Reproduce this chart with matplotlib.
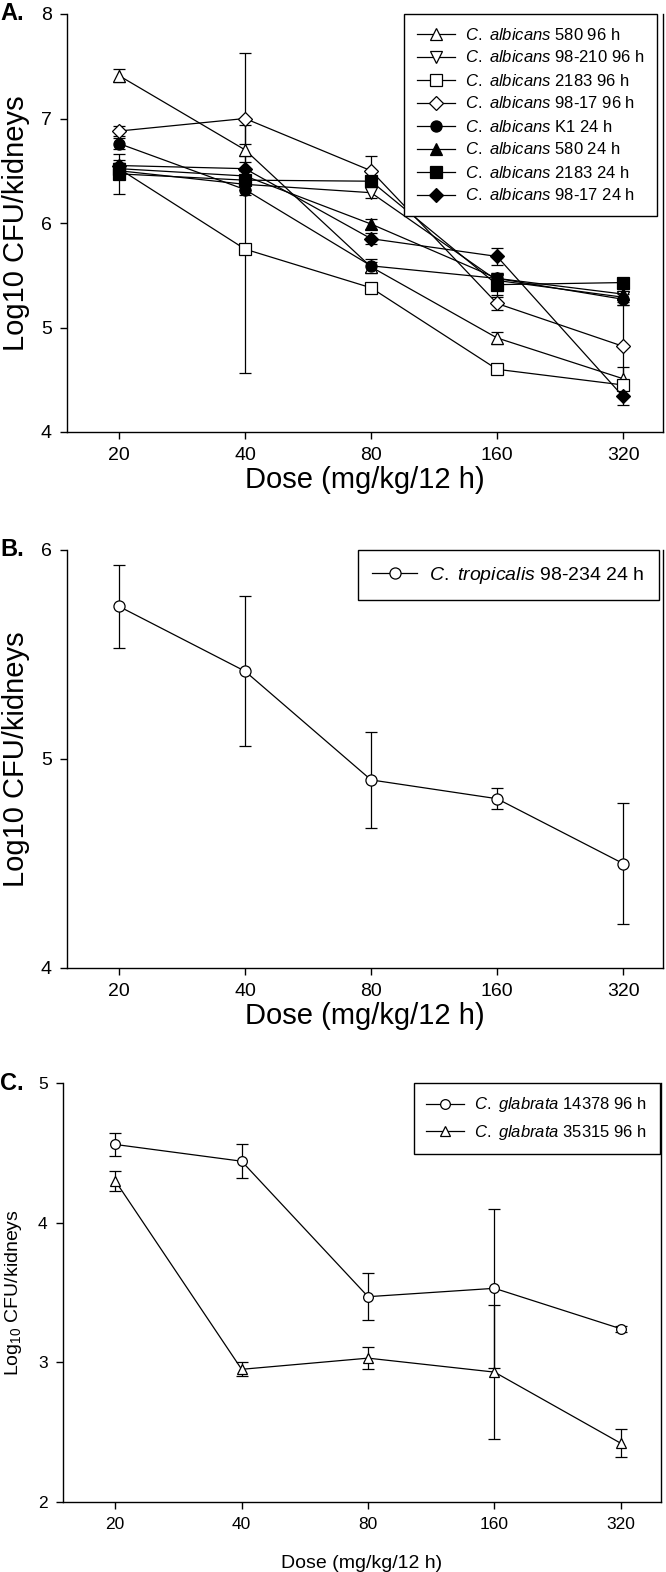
import matplotlib
matplotlib.use("Agg")
import matplotlib.pyplot as plt

plt.rcParams['font.family'] = ['Liberation Sans', 'DejaVu Sans']
plt.rcParams['mathtext.fontset'] = 'custom'
plt.rcParams['mathtext.rm'] = 'Liberation Sans'
plt.rcParams['mathtext.it'] = 'Liberation Sans:italic'

# shared x categories (dose, mg/kg/12 h)
doses = ["20", "40", "80", "160", "320"]

# panel A: C. albicans strains
a_labels = [r"$\mathit{C.\ albicans}$ 580 96 h",
            r"$\mathit{C.\ albicans}$ 98-210 96 h",
            r"$\mathit{C.\ albicans}$ 2183 96 h",
            r"$\mathit{C.\ albicans}$ 98-17 96 h",
            r"$\mathit{C.\ albicans}$ K1 24 h",
            r"$\mathit{C.\ albicans}$ 580 24 h",
            r"$\mathit{C.\ albicans}$ 2183 24 h",
            r"$\mathit{C.\ albicans}$ 98-17 24 h"]
a_means = [[7.41, 6.70, 5.58, 4.90, 4.51],
           [6.50, 6.37, 6.29, 5.45, 5.29],
           [6.52, 5.75, 5.38, 4.60, 4.45],
           [6.88, 7.00, 6.50, 5.23, 4.82],
           [6.76, 6.32, 5.59, 5.47, 5.27],
           [6.52, 6.45, 5.99, 5.47, 5.32],
           [6.47, 6.41, 6.40, 5.41, 5.43],
           [6.55, 6.52, 5.85, 5.68, 4.34]]
a_errs = [[0.06, 0.06, 0.05, 0.06, 0.11],
          [0.05, 0.05, 0.05, 0.05, 0.05],
          [0.05, 1.19, 0.04, 0.03, 0.04],
          [0.05, 0.63, 0.14, 0.06, 0.40],
          [0.05, 0.05, 0.07, 0.05, 0.05],
          [0.05, 0.05, 0.05, 0.05, 0.05],
          [0.19, 0.05, 0.05, 0.10, 0.04],
          [0.05, 0.06, 0.05, 0.08, 0.08]]
a_markers = ['^', 'v', 's', 'D', 'o', '^', 's', 'D']
a_filled = [False, False, False, False, True, True, True, True]

# panel B: C. tropicalis
b_label = r"$\mathit{C.\ tropicalis}$ 98-234 24 h"
b_mean = [5.73, 5.42, 4.90, 4.81, 4.50]
b_err = [0.20, 0.36, 0.23, 0.05, 0.29]

# panel C: C. glabrata strains
c_labels = [r"$\mathit{C.\ glabrata}$ 14378 96 h",
            r"$\mathit{C.\ glabrata}$ 35315 96 h"]
c_means = [[4.56, 4.44, 3.47, 3.53, 3.24],
           [4.30, 2.95, 3.03, 2.93, 2.42]]
c_errs = [[0.08, 0.12, 0.17, 0.57, 0.02],
          [0.07, 0.05, 0.08, 0.48, 0.10]]
c_markers = ['o', '^']

W, H = 666, 1572
fig = plt.figure(figsize=(W / 100, H / 100), dpi=100)


def make_axes(left, top, right, bottom):
    # pixel box -> figure fraction
    return fig.add_axes([left / W, 1 - bottom / H, (right - left) / W, (bottom - top) / H])


def style_axes(ax, yticks, tick_fs, label_fs, ylabel, xpad, ypad):
    ax.spines['top'].set_visible(False)
    for s in ax.spines.values():
        s.set_linewidth(1.0)
    x = list(range(len(doses)))
    ax.set_xticks(x)
    ax.set_xticklabels(doses)
    ax.set_xlim(-0.413, 4.317)
    ax.set_yticks(yticks)
    ax.set_ylim(yticks[0], yticks[-1])
    ax.tick_params(direction='out', length=5, width=1.0, labelsize=tick_fs, pad=6)
    ax.set_xlabel("Dose (mg/kg/12 h)", fontsize=label_fs, labelpad=xpad)
    ax.set_ylabel(ylabel, fontsize=label_fs, labelpad=ypad)


def add_legend(ax, handles, labels, fs, x_anchor, spacing):
    leg = ax.legend(handles, labels, loc='upper right', bbox_to_anchor=(x_anchor, 1.0),
                    borderaxespad=0, fontsize=fs, frameon=True, fancybox=False,
                    framealpha=1, edgecolor='k', handlelength=2.3, handletextpad=0.6,
                    labelspacing=spacing, borderpad=0.75)
    leg.get_frame().set_linewidth(1.0)


x = list(range(len(doses)))

# ---- panel A
axA = make_axes(67, 14, 663, 432)
lines = []
for mean, err, mk, filled in zip(a_means, a_errs, a_markers, a_filled):
    ms = 7 if mk == 'D' else 8
    c = axA.errorbar(x, mean, yerr=err, fmt=mk + '-', color='k', lw=0.9,
                     mfc='k' if filled else 'white', mec='k', mew=0.9, ms=ms,
                     capsize=4, elinewidth=0.9, capthick=0.9)
    lines.append(c[0])
style_axes(axA, [4, 5, 6, 7, 8], 14, 21, "Log10 CFU/kidneys", 1, 8)
add_legend(axA, lines, a_labels, 12, 0.99, 0.42)

# ---- panel B
axB = make_axes(67, 550, 663, 968)
c = axB.errorbar(x, b_mean, yerr=b_err, fmt='o-', color='k', lw=0.9, mfc='white',
                 mec='k', mew=0.9, ms=8, capsize=4.5, elinewidth=0.9, capthick=0.9)
style_axes(axB, [4, 5, 6], 14, 21, "Log10 CFU/kidneys", 1, 8)
add_legend(axB, [c[0]], [b_label], 14, 0.993, 0.3)

# ---- panel C
axC = make_axes(63, 1083, 661, 1502)
lines = []
for mean, err, mk in zip(c_means, c_errs, c_markers):
    c = axC.errorbar(x, mean, yerr=err, fmt=mk + '-', color='k', lw=0.9, mfc='white',
                     mec='k', mew=0.9, ms=7, capsize=4.5, elinewidth=0.9, capthick=0.9)
    lines.append(c[0])
style_axes(axC, [2, 3, 4, 5], 12.5, 14, r"Log$_{10}$ CFU/kidneys", 16, 10)
add_legend(axC, lines, c_labels, 12, 0.998, 0.5)

# panel letters
fig.text(0 / W, 1 - 14 / H, "A.", fontsize=17, fontweight='bold', va='center', ha='left')
fig.text(0 / W, 1 - 550 / H, "B.", fontsize=17, fontweight='bold', va='center', ha='left')
fig.text(0 / W, 1 - 1083 / H, "C.", fontsize=17, fontweight='bold', va='center', ha='left')

fig.savefig("out.png", dpi=100)
